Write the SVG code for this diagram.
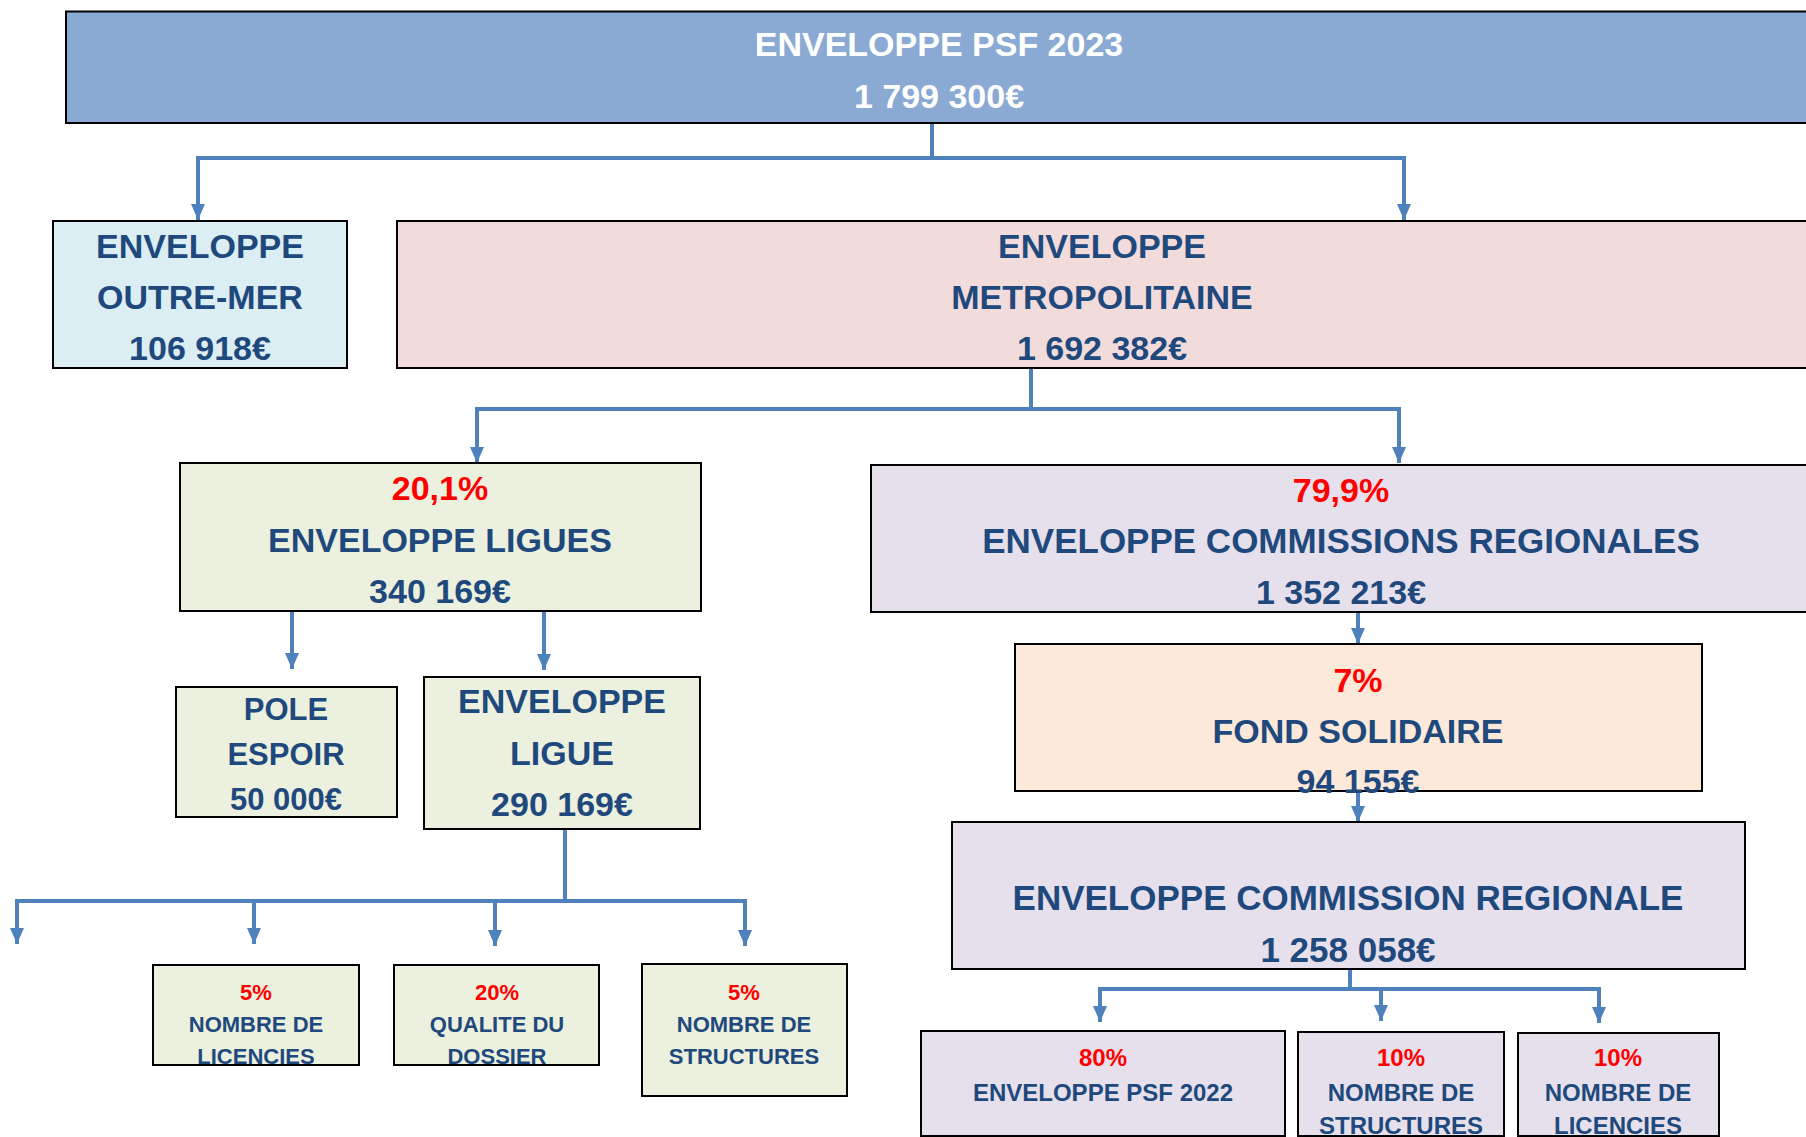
<svg xmlns="http://www.w3.org/2000/svg" width="1806" height="1137" viewBox="0 0 1806 1137">
<defs>
<marker id="arr" viewBox="0 0 16 14" markerWidth="16" markerHeight="14" refX="16" refY="7" orient="auto" markerUnits="userSpaceOnUse">
<path d="M0,0 L16,7 L0,14 z" fill="#4F81BD"/>
</marker>
</defs>
<style>
rect{stroke:#000;stroke-width:2}
rect.bg{stroke:none;fill:#fff}
text{font-family:"Liberation Sans",Arial,sans-serif;font-weight:bold;text-anchor:middle;fill:#1F497D}
.w{fill:#fff}
.r{fill:#FF0000}
.f34{font-size:34px}
.f31{font-size:31px}
.f35{font-size:35px}
.f22{font-size:22px}
.f24{font-size:24px}
#conn path{fill:none;stroke:#4F81BD;stroke-width:4}
.blue{fill:#8AAAD3}
.aqua{fill:#DBEEF3}
.pink{fill:#F2DCDB}
.green{fill:#EBF1DE}
.lila{fill:#E5E0EC}
.peach{fill:#FDE9D9}
</style>
<rect class="bg" width="1806" height="1137"/>

<g id="conn">
<path d="M932,123 V158 H198 V220" marker-end="url(#arr)"/>
<path d="M932,158 H1404 V220" marker-end="url(#arr)"/>
<path d="M1031,368 V409 H477 V463" marker-end="url(#arr)"/>
<path d="M1031,409 H1399 V463" marker-end="url(#arr)"/>
<path d="M292,611 V669" marker-end="url(#arr)"/>
<path d="M544,611 V670" marker-end="url(#arr)"/>
<path d="M1358,612 V644" marker-end="url(#arr)"/>
<path d="M1358,790 V822" marker-end="url(#arr)"/>
<path d="M565,829 V901 H17 V944" marker-end="url(#arr)"/>
<path d="M565,901 H745 V946" marker-end="url(#arr)"/>
<path d="M254,901 V944" marker-end="url(#arr)"/>
<path d="M495,901 V946" marker-end="url(#arr)"/>
<path d="M1350,969 V989 H1100 V1022" marker-end="url(#arr)"/>
<path d="M1350,989 H1599 V1023" marker-end="url(#arr)"/>
<path d="M1381,989 V1021" marker-end="url(#arr)"/>
</g>

<g id="psf2023">
<rect class="blue" x="66" y="11.5" width="1760" height="111.5"/>
<text class="w f34" x="939" y="56">ENVELOPPE PSF 2023</text>
<text class="w f34" x="939" y="108">1 799 300€</text>
</g>

<g id="outremer">
<rect class="aqua" x="53" y="221" width="294" height="147"/>
<text class="f34" x="200" y="258">ENVELOPPE</text>
<text class="f34" x="200" y="309">OUTRE-MER</text>
<text class="f34" x="200" y="360">106 918€</text>
</g>

<g id="metropolitaine">
<rect class="pink" x="397" y="221" width="1430" height="147"/>
<text class="f34" x="1102" y="258">ENVELOPPE</text>
<text class="f34" x="1102" y="309">METROPOLITAINE</text>
<text class="f34" x="1102" y="360">1 692 382€</text>
</g>

<g id="ligues">
<rect class="green" x="180" y="463" width="521" height="148"/>
<text class="r f34" x="440" y="500">20,1%</text>
<text class="f34" x="440" y="552">ENVELOPPE LIGUES</text>
<text class="f34" x="440" y="603">340 169€</text>
</g>

<g id="commissions">
<rect class="lila" x="871" y="465" width="960" height="147"/>
<text class="r f34" x="1341" y="502">79,9%</text>
<text class="f35" x="1341" y="553">ENVELOPPE COMMISSIONS REGIONALES</text>
<text class="f34" x="1341" y="604">1 352 213€</text>
</g>

<g id="pole">
<rect class="green" x="176" y="687" width="221" height="130"/>
<text class="f31" x="286" y="720">POLE</text>
<text class="f31" x="286" y="765">ESPOIR</text>
<text class="f31" x="286" y="810">50 000€</text>
</g>

<g id="ligue">
<rect class="green" x="424" y="677" width="276" height="152"/>
<text class="f34" x="562" y="713">ENVELOPPE</text>
<text class="f34" x="562" y="765">LIGUE</text>
<text class="f34" x="562" y="816">290 169€</text>
</g>

<g id="fond">
<rect class="peach" x="1015" y="644" width="687" height="147"/>
<text class="r f34" x="1358" y="692">7%</text>
<text class="f34" x="1358" y="743">FOND SOLIDAIRE</text>
<text class="f34" x="1358" y="793">94 155€</text>
</g>

<g id="comreg">
<rect class="lila" x="952" y="822" width="793" height="147"/>
<text class="f35" x="1348" y="910">ENVELOPPE COMMISSION REGIONALE</text>
<text class="f35" x="1348" y="962">1 258 058€</text>
</g>

<g id="l-licencies">
<rect class="green" x="153" y="965" width="206" height="100"/>
<text class="r f22" x="256" y="1000">5%</text>
<text class="f22" x="256" y="1032">NOMBRE DE</text>
<text class="f22" x="256" y="1064">LICENCIES</text>
</g>

<g id="l-dossier">
<rect class="green" x="394" y="965" width="205" height="100"/>
<text class="r f22" x="497" y="1000">20%</text>
<text class="f22" x="497" y="1032">QUALITE DU</text>
<text class="f22" x="497" y="1064">DOSSIER</text>
</g>

<g id="l-structures">
<rect class="green" x="642" y="964" width="205" height="132"/>
<text class="r f22" x="744" y="1000">5%</text>
<text class="f22" x="744" y="1032">NOMBRE DE</text>
<text class="f22" x="744" y="1064">STRUCTURES</text>
</g>

<g id="r-psf2022">
<rect class="lila" x="921" y="1031" width="364" height="105"/>
<text class="r f24" x="1103" y="1066">80%</text>
<text class="f24" x="1103" y="1101">ENVELOPPE PSF 2022</text>
</g>

<g id="r-structures">
<rect class="lila" x="1298" y="1032" width="206" height="104"/>
<text class="r f24" x="1401" y="1066">10%</text>
<text class="f24" x="1401" y="1101">NOMBRE DE</text>
<text class="f24" x="1401" y="1134">STRUCTURES</text>
</g>

<g id="r-licencies">
<rect class="lila" x="1518" y="1033" width="201" height="103"/>
<text class="r f24" x="1618" y="1066">10%</text>
<text class="f24" x="1618" y="1101">NOMBRE DE</text>
<text class="f24" x="1618" y="1134">LICENCIES</text>
</g>
</svg>
